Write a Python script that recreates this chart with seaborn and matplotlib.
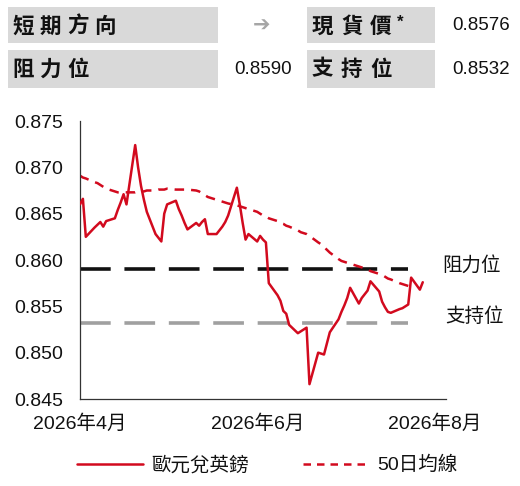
import matplotlib
matplotlib.use("Agg")
import matplotlib.pyplot as plt
import matplotlib.dates as mdates
import matplotlib.patches as mpatches
from matplotlib.lines import Line2D
import seaborn as sns
import numpy as np
import pandas as pd

# ---- data ----
dates = pd.bdate_range("2026-04-01", "2026-07-28")

eurgbp = [
    # Apr
    0.8660, 0.8666, 0.8625, 0.8635, 0.8638, 0.8641, 0.8636, 0.8642, 0.8645, 0.8654,
    0.8662, 0.8671, 0.8660, 0.8724, 0.8700, 0.8680, 0.8665, 0.8652, 0.8628, 0.8624,
    0.8620, 0.8650,
    # May
    0.8660, 0.8664, 0.8655, 0.8648, 0.8640, 0.8633, 0.8640, 0.8637, 0.8641, 0.8644,
    0.8628, 0.8628, 0.8632, 0.8636, 0.8641, 0.8648, 0.8678, 0.8660, 0.8640, 0.8622,
    0.8628,
    # Jun
    0.8620, 0.8626, 0.8622, 0.8619, 0.8575, 0.8562, 0.8556, 0.8545, 0.8542, 0.8530,
    0.8521, 0.8523, 0.8525, 0.8527, 0.8466, 0.8500, 0.8499, 0.8498, 0.8510, 0.8522,
    0.8536, 0.8544,
    # Jul
    0.8551, 0.8559, 0.8570, 0.8553, 0.8559, 0.8563, 0.8567, 0.8577, 0.8566, 0.8555,
    0.8549, 0.8544, 0.8543, 0.8547, 0.8548, 0.8550, 0.8552, 0.8581, 0.8568, 0.8576,
]

ma50 = [
    # Apr
    0.8691, 0.8689, 0.8688, 0.8684, 0.8683, 0.8681, 0.8679, 0.8677, 0.8674, 0.8673,
    0.8673, 0.8673, 0.8673, 0.8673, 0.8674, 0.8674, 0.8674, 0.8675, 0.8675, 0.8676,
    0.8676, 0.8676,
    # May
    0.8677, 0.8676, 0.8676, 0.8676, 0.8676, 0.8676, 0.8675, 0.8674, 0.8672, 0.8670,
    0.8668, 0.8665, 0.8664, 0.8663, 0.8662, 0.8661, 0.8659, 0.8658, 0.8657, 0.8656,
    0.8655,
    # Jun
    0.8652, 0.8650, 0.8648, 0.8647, 0.8645, 0.8642, 0.8640, 0.8639, 0.8637, 0.8636,
    0.8632, 0.8630, 0.8629, 0.8628, 0.8626, 0.8619, 0.8617, 0.8614, 0.8611, 0.8608,
    0.8601, 0.8599,
    # Jul
    0.8598, 0.8597, 0.8596, 0.8593, 0.8592, 0.8591, 0.8590, 0.8588, 0.8585, 0.8584,
    0.8582, 0.8580, 0.8579, 0.8575, 0.8574, 0.8573, 0.8572, 0.8571, np.nan, np.nan,
]

resistance = 0.8590
support = 0.8532
spot = 0.8576
level_end = "2026-07-23"

table_rows = [
    ("短期方向", "➔", "現貨價*", "0.8576"),
    ("阻力位", "0.8590", "支持位", "0.8532"),
]
series_names = ["歐元兌英鎊", "50日均線"]
level_names = ["阻力位", "支持位"]

df = pd.DataFrame({"date": dates, "price": eurgbp, "ma": ma50})

# ---- style ----
sns.set_style("white")
latin = ["Liberation Sans", "Noto Sans CJK TC", "DejaVu Sans"]
cjk = ["Noto Sans CJK TC", "DejaVu Sans"]
plt.rcParams["font.family"] = latin

red = "#d20a1e"
W, H = 520, 486
fig = plt.figure(figsize=(5.2, 4.86), dpi=100)

# ---- top table ----
box_color = "#d9d9d9"
for (x0, x1) in [(8, 218), (307, 435)]:
    for (y0, y1) in [(7, 43), (50, 88)]:
        fig.patches.append(mpatches.Rectangle((x0 / W, 1 - y1 / H), (x1 - x0) / W, (y1 - y0) / H,
                                              transform=fig.transFigure, color=box_color, lw=0))

row_y = [26, 69]


def spaced(text, x, y, pitch):
    # the labels in the boxes are letter-spaced, so place them one glyph at a time
    for k, ch in enumerate(text):
        fig.text((x + k * pitch) / W, 1 - y / H, ch, family=cjk, weight="bold",
                 fontsize=15.5, ha="left", va="center", color="#111111")


for r, (lab1, val1, lab2, val2) in enumerate(table_rows):
    y = row_y[r]
    spaced(lab1, 12, y, 27.5)
    if val1 == "➔":
        fig.text(262 / W, 1 - y / H, val1, family=["DejaVu Sans"], fontsize=15, ha="center",
                 va="center", color="#a6a6a6")
    else:
        fig.text(292 / W, 1 - y / H, val1, fontsize=13.5, ha="right", va="center", color="#111111")
    if lab2.endswith("*"):
        spaced(lab2[:-1], 312, y, 29)
        fig.text(397 / W, 1 - (y - 4) / H, "*", fontsize=12, weight="bold",
                 ha="left", va="center", color="#111111")
    else:
        spaced(lab2, 312, y, 29)
    fig.text(510 / W, 1 - y / H, val2, fontsize=13.5, ha="right", va="center", color="#111111")

# ---- chart ----
ax = fig.add_axes([80 / W, 1 - 399 / H, (446 - 80) / W, (399 - 121) / H])

ax.hlines(resistance, pd.Timestamp("2026-04-01"), pd.Timestamp(level_end), colors="#111111",
          lw=2.6, linestyles=(0, (8.5, 3.8)), zorder=1)
ax.hlines(support, pd.Timestamp("2026-04-01"), pd.Timestamp(level_end), colors="#a0a0a0",
          lw=2.6, linestyles=(0, (8.5, 3.8)), zorder=1)

sns.lineplot(data=df, x="date", y="ma", ax=ax, color=red, lw=1.8, zorder=2)
ax.lines[-1].set_dashes((3.8, 2.8))
sns.lineplot(data=df, x="date", y="price", ax=ax, color=red, lw=1.8, zorder=3)

ax.set_xlim(pd.Timestamp("2026-04-01"), pd.Timestamp("2026-08-05"))
ax.set_ylim(0.845, 0.875)
ax.set_yticks(np.arange(0.845, 0.8751, 0.005))
ax.yaxis.set_major_formatter(matplotlib.ticker.FormatStrFormatter("%.3f"))
ax.xaxis.set_major_locator(mdates.MonthLocator(bymonth=[4, 6, 8]))
ax.xaxis.set_minor_locator(mdates.MonthLocator(bymonth=[5, 7]))
ax.xaxis.set_major_formatter(mdates.DateFormatter("%Y年%-m月"))
ax.set_xlabel("")
ax.set_ylabel("")

for s in ["top", "right"]:
    ax.spines[s].set_visible(False)
for s in ["left", "bottom"]:
    ax.spines[s].set_color("#333333")
    ax.spines[s].set_linewidth(0.9)

ax.tick_params(axis="y", which="major", direction="out", length=6, width=0.9, color="#333333",
               pad=6, labelsize=14)
ax.tick_params(axis="x", which="major", direction="inout", length=8, width=0.9, color="#333333",
               pad=7, labelsize=14)
ax.tick_params(axis="x", which="minor", direction="in", length=4, width=0.9, color="#333333")
for lab in ax.get_xticklabels() + ax.get_yticklabels():
    lab.set_family(latin)
    lab.set_color("#111111")

ax.text(471 / W, 1 - 265 / H, level_names[0], transform=fig.transFigure, family=cjk,
        fontsize=14, ha="center", va="center", color="#111111")
ax.text(475 / W, 1 - 317 / H, level_names[1], transform=fig.transFigure, family=cjk,
        fontsize=14, ha="center", va="center", color="#111111")

handles = [Line2D([], [], color=red, lw=1.8),
           Line2D([], [], color=red, lw=1.8, dashes=(3.0, 2.4))]
leg = fig.legend(handles, series_names, loc="center", bbox_to_anchor=(267 / W, 1 - 465 / H),
                 ncol=2, frameon=False, handlelength=3.4, handletextpad=0.4, columnspacing=2.8,
                 prop={"family": latin, "size": 14})
for t in leg.get_texts():
    t.set_color("#111111")

fig.savefig("out.png", dpi=100)
